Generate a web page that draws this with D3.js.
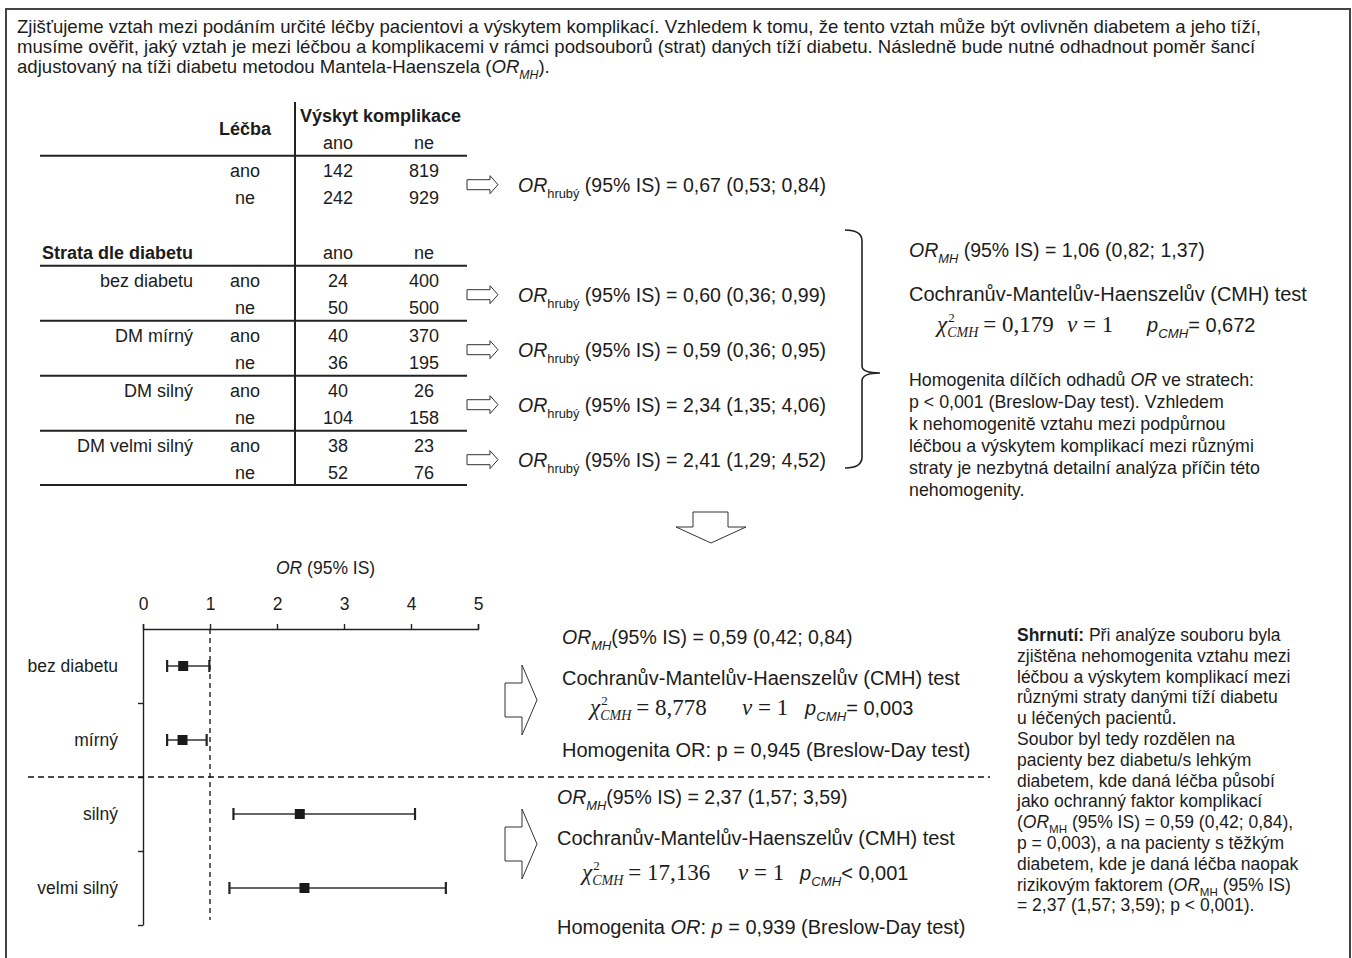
<!DOCTYPE html>
<html>
<head>
<meta charset="utf-8">
<script src="https://cdn.jsdelivr.net/npm/d3@7"></script>
<style>
  body { margin: 0; background: #fff; }
  svg { display: block; font-family: "Liberation Sans", Arial, sans-serif; fill: #1c1c1c; }
  .serif { font-family: "Liberation Serif", "Times New Roman", serif; }
</style>
</head>
<body>
<svg></svg>
<script>
// --- data ---
let strata = ["bez diabetu", "DM mírný", "DM silný", "DM velmi silný"];
let forestLabels = ["bez diabetu", "mírný", "silný", "velmi silný"];
let treatment = ["ano", "ne"];
let totalCounts = [[142, 819], [242, 929]];
let strataCounts = [
    [[24, 400], [50, 500]],
    [[40, 370], [36, 195]],
    [[40, 26], [104, 158]],
    [[38, 23], [52, 76]]
];
// crude OR: total first, then the four strata
let orCrude = [0.67, 0.60, 0.59, 2.34, 2.41];
let orLow = [0.53, 0.36, 0.36, 1.35, 1.29];
let orHigh = [0.84, 0.99, 0.95, 4.06, 4.52];
// Mantel-Haenszel: all strata, mild group, severe group
let mhOR = [1.06, 0.59, 2.37];
let mhLow = [0.82, 0.42, 1.57];
let mhHigh = [1.37, 0.84, 3.59];
let chiCMH = [0.179, 8.778, 17.136];
let pCMH = ["= 0,672", "= 0,003", "< 0,001"];
let pBreslow = ["p < 0,001", "0,945", "0,939"];
let orTicks = [0, 1, 2, 3, 4, 5];

window.onload = () => {
    let width = 1352, height = 958;
    let svg = d3.select("svg").attr("width", width).attr("height", height);

    let loc = d3.formatLocale({decimal: ",", thousands: " ", grouping: [3], currency: ["", ""]});
    let f2 = loc.format(".2f"), f3 = loc.format(".3f");

    // text with italic / bold / subscript pieces
    let rich = (g, x, y, parts, size) => {
        let t = g.append("text").attr("x", x).attr("y", y).style("font-size", size + "px");
        let shift = 0;
        parts.forEach(p => {
            if (typeof p === "string") p = {t: p};
            let want = p.sub ? size * 0.3 : 0;
            let s = t.append("tspan").text(p.t).attr("dy", want - shift);
            shift = want;
            if (p.sub) s.style("font-size", (size * 0.66) + "px");
            if (p.i) s.style("font-style", "italic");
            if (p.b) s.style("font-weight", "bold");
        });
        return t;
    };

    let arrowRight = (g, x0, y, shaftLen, shaftH, headLen, headH) => {
        let p = d3.path();
        p.moveTo(x0, y - shaftH);
        p.lineTo(x0 + shaftLen, y - shaftH);
        p.lineTo(x0 + shaftLen, y - headH);
        p.lineTo(x0 + shaftLen + headLen, y);
        p.lineTo(x0 + shaftLen, y + headH);
        p.lineTo(x0 + shaftLen, y + shaftH);
        p.lineTo(x0, y + shaftH);
        p.closePath();
        g.append("path").attr("d", p.toString())
            .attr("fill", "#fff").attr("stroke", "#333").attr("stroke-width", 1);
    };

    let chiRow = (g, x, y, chi, nuX, pX, pText) => {
        let c = g.append("text").attr("class", "serif").attr("x", x).attr("y", y)
            .style("font-size", "23px").style("font-style", "italic").text("χ");
        let w = c.node().getComputedTextLength();
        g.append("text").attr("class", "serif").attr("x", x + w + 1).attr("y", y - 10)
            .style("font-size", "13px").text("2");
        let s = g.append("text").attr("class", "serif").attr("x", x + w).attr("y", y + 5)
            .style("font-size", "14px").style("font-style", "italic").text("CMH");
        let w2 = s.node().getComputedTextLength();
        g.append("text").attr("class", "serif").attr("x", x + w + w2 + 5).attr("y", y)
            .style("font-size", "23px").text("= " + f3(chi));
        let n = g.append("text").attr("class", "serif").attr("x", nuX).attr("y", y)
            .style("font-size", "23px");
        n.append("tspan").style("font-style", "italic").text("ν");
        n.append("tspan").text(" = 1");
        rich(g, pX, y, [{t: "p", i: true}, {t: "CMH", i: true, sub: true}, pText], 20);
    };

    // frame
    svg.append("rect")
        .attr("x", 6).attr("y", 9).attr("width", 1344).attr("height", 990)
        .attr("fill", "none").attr("stroke", "#444").attr("stroke-width", 2);

    // intro paragraph
    let intro = [
        ["Zjišťujeme vztah mezi podáním určité léčby pacientovi a výskytem komplikací. Vzhledem k tomu, že tento vztah může být ovlivněn diabetem a jeho tíží,"],
        ["musíme ověřit, jaký vztah je mezi léčbou a komplikacemi v rámci podsouborů (strat) daných tíží diabetu. Následně bude nutné odhadnout poměr šancí"],
        ["adjustovaný na tíži diabetu metodou Mantela-Haenszela (", {t: "OR", i: true}, {t: "MH", i: true, sub: true}, ")."]
    ];
    intro.forEach((l, k) => rich(svg, 17, 33 + k * 20, l, 18.6));

    // --- contingency table ---
    let tbl = svg.append("g").style("font-size", "18px");
    let colX = {label: 193, lecba: 245, ano: 338, ne: 424};
    let tblLeft = 40, tblRight = 467, vX = 295;
    let blockTop = [155.7, 265.7, 320.7, 375.7, 430.7];

    tbl.append("text").attr("x", 300).attr("y", 122).attr("font-weight", "bold").text("Výskyt komplikace");
    tbl.append("text").attr("x", colX.lecba).attr("y", 135).attr("text-anchor", "middle")
        .attr("font-weight", "bold").text("Léčba");
    tbl.append("text").attr("x", 42).attr("y", 259).attr("font-weight", "bold").text("Strata dle diabetu");
    [149, 259].forEach(y => {
        treatment.forEach(t => {
            tbl.append("text").attr("x", colX[t]).attr("y", y).attr("text-anchor", "middle").text(t);
        });
    });

    let blocks = [{label: "", counts: totalCounts}].concat(
        strata.map((s, i) => ({label: s, counts: strataCounts[i]})));

    blocks.forEach((b, bi) => {
        let top = blockTop[bi];
        treatment.forEach((t, ri) => {
            let y = top + 15.5 + ri * 27 + 6;
            if (ri === 0 && b.label) {
                tbl.append("text").attr("x", colX.label).attr("y", y).attr("text-anchor", "end").text(b.label);
            }
            tbl.append("text").attr("x", colX.lecba).attr("y", y).attr("text-anchor", "middle").text(t);
            treatment.forEach((c, ci) => {
                tbl.append("text").attr("x", colX[c]).attr("y", y).attr("text-anchor", "middle")
                    .text(b.counts[ri][ci]);
            });
        });
    });

    blockTop.concat([485]).forEach(y => {
        tbl.append("line").attr("x1", tblLeft).attr("x2", tblRight).attr("y1", y).attr("y2", y)
            .attr("stroke", "#222").attr("stroke-width", 2);
    });
    tbl.append("line").attr("x1", vX).attr("x2", vX).attr("y1", 102).attr("y2", 486)
        .attr("stroke", "#222").attr("stroke-width", 2);

    // crude OR lines with arrows
    blockTop.forEach((top, i) => {
        let y = top + 29;
        arrowRight(svg, 467, y, 23, 5, 8, 9);
        rich(svg, 518, y + 7, [{t: "OR", i: true}, {t: "hrubý", sub: true},
            " (95% IS) = " + f2(orCrude[i]) + " (" + f2(orLow[i]) + "; " + f2(orHigh[i]) + ")"], 19.5);
    });

    // brace
    svg.append("path")
        .attr("d", "M845,230 Q862,230 862,241 L862,366 Q862,373 880,373 Q862,373 862,381 L862,457 Q862,468 845,468")
        .attr("fill", "none").attr("stroke", "#222").attr("stroke-width", 1.6);

    // right block: all strata MH
    rich(svg, 909, 257, [{t: "OR", i: true}, {t: "MH", i: true, sub: true},
        " (95% IS) = " + f2(mhOR[0]) + " (" + f2(mhLow[0]) + "; " + f2(mhHigh[0]) + ")"], 19.5);
    rich(svg, 909, 301, ["Cochranův-Mantelův-Haenszelův (CMH) test"], 20);
    chiRow(svg, 937, 332, chiCMH[0], 1067, 1147, pCMH[0]);

    let homog = [
        ["Homogenita dílčích odhadů ", {t: "OR", i: true}, " ve stratech:"],
        [pBreslow[0] + " (Breslow-Day test). Vzhledem"],
        ["k nehomogenitě vztahu mezi podpůrnou"],
        ["léčbou a výskytem komplikací mezi různými"],
        ["straty je nezbytná detailní analýza příčin této"],
        ["nehomogenity."]
    ];
    homog.forEach((l, k) => rich(svg, 909, 386 + k * 22, l, 17.8));

    // down arrow
    let da = d3.path();
    da.moveTo(693, 512); da.lineTo(728, 512); da.lineTo(728, 527); da.lineTo(746, 527);
    da.lineTo(711, 543); da.lineTo(676, 527); da.lineTo(693, 527); da.closePath();
    svg.append("path").attr("d", da.toString()).attr("fill", "#fff").attr("stroke", "#333");

    // --- forest plot ---
    let fp = svg.append("g").style("font-size", "17.5px");
    let x = d3.scaleLinear().domain([0, 5]).range([143, 478]);
    let yPos = d3.scaleLinear().domain([0, forestLabels.length]).range([629, 925]);
    let y = d3.scaleBand().domain(forestLabels).range([629, 925]);

    let xAxis = fp.append("g").attr("transform", "translate(0,629)")
        .call(d3.axisTop(x).tickValues(orTicks).tickFormat(d3.format("d")).tickSize(5).tickPadding(14));
    xAxis.selectAll("text").style("font-size", "17.5px").attr("fill", "#1c1c1c")
        .style("font-family", "Liberation Sans, Arial, sans-serif");
    xAxis.selectAll("path, line").attr("stroke", "#222").attr("stroke-width", 1.4);

    let yAxis = fp.append("g").attr("transform", "translate(143,0)")
        .call(d3.axisLeft(yPos).tickValues(d3.range(1, forestLabels.length + 1)).tickFormat("").tickSize(5).tickSizeOuter(0));
    yAxis.selectAll("path, line").attr("stroke", "#222").attr("stroke-width", 1.4);

    rich(fp, 276, 574, [{t: "OR", i: true}, " (95% IS)"], 17.5);

    fp.selectAll(".lab").data(forestLabels).enter().append("text")
        .attr("x", 118).attr("y", d => y(d) + y.bandwidth() / 2 + 6)
        .attr("text-anchor", "end").text(d => d);

    fp.append("line").attr("x1", x(1)).attr("x2", x(1)).attr("y1", 629).attr("y2", 920)
        .attr("stroke", "#111").attr("stroke-width", 1.3).attr("stroke-dasharray", "5,4");

    let fd = forestLabels.map((l, i) => ({l, or: orCrude[i + 1], lo: orLow[i + 1], hi: orHigh[i + 1]}));
    let rows = fp.selectAll(".ci").data(fd).enter().append("g")
        .attr("transform", d => "translate(0," + (y(d.l) + y.bandwidth() / 2) + ")");
    rows.append("line").attr("x1", d => x(d.lo)).attr("x2", d => x(d.hi))
        .attr("stroke", "#333").attr("stroke-width", 1.3);
    rows.selectAll(".cap").data(d => [d.lo, d.hi]).enter().append("line")
        .attr("x1", v => x(v)).attr("x2", v => x(v)).attr("y1", -6).attr("y2", 6)
        .attr("stroke", "#222").attr("stroke-width", 2.2);
    rows.append("rect").attr("x", d => x(d.or) - 5).attr("y", -5).attr("width", 10).attr("height", 10)
        .attr("fill", "#1a1a1a");

    // separator between mild and severe groups
    svg.append("line").attr("x1", 28).attr("x2", 990).attr("y1", yPos(2)).attr("y2", yPos(2))
        .attr("stroke", "#111").attr("stroke-width", 1.3).attr("stroke-dasharray", "6,4");

    // group MH results
    let groups = [
        {x: 562, top: 644, arrowY: 700, chiX: 590, nuX: 742, pX: 805, italicOR: false},
        {x: 557, top: 804, arrowY: 844, chiX: 582, nuX: 738, pX: 800, italicOR: true}
    ];
    groups.forEach((g, k) => {
        let i = k + 1;
        arrowRight(svg, 505, g.arrowY, 17, 17, 15, 35);
        rich(svg, g.x, g.top, [{t: "OR", i: true}, {t: "MH", i: true, sub: true},
            "(95% IS) = " + f2(mhOR[i]) + " (" + f2(mhLow[i]) + "; " + f2(mhHigh[i]) + ")"], 19.5);
        rich(svg, g.x, g.top + 41, ["Cochranův-Mantelův-Haenszelův (CMH) test"], 20);
        chiRow(svg, g.chiX, g.top + (k ? 76 : 71), chiCMH[i], g.nuX, g.pX, pCMH[i]);
        let hy = g.top + (k ? 130 : 113);
        if (g.italicOR) {
            rich(svg, g.x, hy, ["Homogenita ", {t: "OR", i: true}, ": ", {t: "p", i: true},
                " = " + pBreslow[i] + " (Breslow-Day test)"], 20);
        } else {
            rich(svg, g.x, hy, ["Homogenita OR: p = " + pBreslow[i] + " (Breslow-Day test)"], 20);
        }
    });

    // summary
    let summary = [
        [{t: "Shrnutí:", b: true}, " Při analýze souboru byla"],
        ["zjištěna nehomogenita vztahu mezi"],
        ["léčbou a výskytem komplikací mezi"],
        ["různými straty danými tíží diabetu"],
        ["u léčených pacientů."],
        ["Soubor byl tedy rozdělen na"],
        ["pacienty bez diabetu/s lehkým"],
        ["diabetem, kde daná léčba působí"],
        ["jako ochranný faktor komplikací"],
        ["(", {t: "OR", i: true}, {t: "MH", sub: true}, " (95% IS) = " + f2(mhOR[1]) + " (" + f2(mhLow[1]) + "; " + f2(mhHigh[1]) + "),"],
        ["p = 0,003), a na pacienty s těžkým"],
        ["diabetem, kde je daná léčba naopak"],
        ["rizikovým faktorem (", {t: "OR", i: true}, {t: "MH", sub: true}, " (95% IS)"],
        ["= " + f2(mhOR[2]) + " (" + f2(mhLow[2]) + "; " + f2(mhHigh[2]) + "); p < 0,001)."]
    ];
    summary.forEach((l, k) => rich(svg, 1017, 641 + k * 20.8, l, 17.5));
};
</script>
</body>
</html>
